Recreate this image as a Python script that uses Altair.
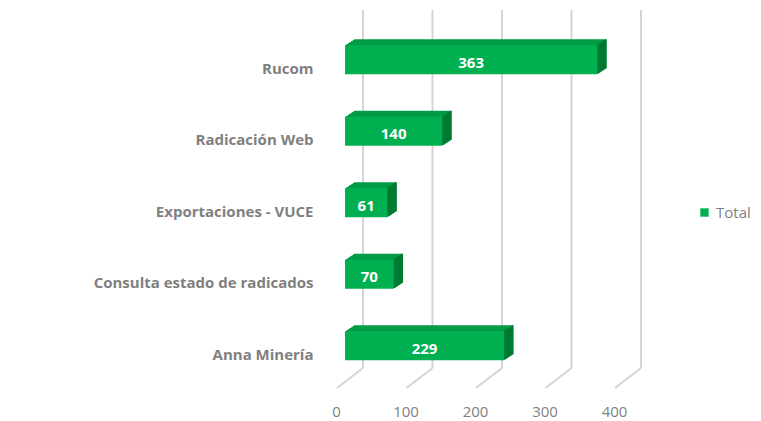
import altair as alt
import pandas as pd

categories = ["Rucom", "Radicación Web", "Exportaciones - VUCE", "Consulta estado de radicados", "Anna Minería"]
values = [363, 140, 61, 70, 229]
series_name = "Total"
tick_values = [0, 100, 200, 300, 400]

FRONT = "#00b050"
TOP = "#009c45"
SIDE = "#007a33"
GRAY = "#7f7f7f"
GRID = "#d4d4d4"

df = pd.DataFrame({"cat": categories, "value": values, "series": [series_name] * len(values)})
ticks = pd.DataFrame({"tick": tick_values})

xscale = alt.Scale(domain=[0, 400], nice=False, zero=True)
xaxis = alt.Axis(title=None, values=tick_values, grid=False, domain=False, ticks=False,
                 labelFont="Open Sans", labelFontSize=15, labelColor=GRAY,
                 labelPadding=23, labelOffset=-9, labelFlush=False)
yenc = alt.Y("cat:N", sort=categories,
             scale=alt.Scale(paddingInner=0, paddingOuter=0),
             axis=alt.Axis(title=None, domain=False, ticks=False, grid=False,
                           labelFont="Open Sans", labelFontSize=15, labelFontWeight="bold",
                           labelColor=GRAY, labelPadding=32, labelOffset=9, labelLimit=400))

def xenc(field):
    return alt.X(field, type="quantitative", scale=xscale, axis=xaxis)

BAR = 29
N = 9
DX = 1.0
DY = 0.66

layers = []

# back wall gridlines
layers.append(
    alt.Chart(ticks).mark_rule(color=GRID, strokeWidth=2, xOffset=18, x2Offset=18)
    .encode(x=xenc("tick"), y=alt.value(-14), y2=alt.value(344))
)
# floor lines
layers.append(
    alt.Chart(ticks).mark_rule(color=GRID, strokeWidth=2, xOffset=18, x2Offset=-8)
    .encode(x=xenc("tick"), x2=alt.X2("tick"), y=alt.value(344), y2=alt.value(364))
)

# top face (stacked shifted rects)
for i in range(1, N + 1):
    layers.append(
        alt.Chart(df).mark_bar(size=BAR, color=TOP, xOffset=i * DX, x2Offset=i * DX,
                               yOffset=-i * DY, y2Offset=-i * DY)
        .encode(x=xenc("value"), y=yenc)
    )
# side face (thin strips at the right end)
for i in range(1, N + 1):
    layers.append(
        alt.Chart(df).mark_bar(size=BAR, color=SIDE, xOffset=(i - 1) * DX - 0.4, x2Offset=i * DX + 0.4,
                               yOffset=-i * DY, y2Offset=-i * DY)
        .encode(x=xenc("value"), x2=alt.X2("value"), y=yenc)
    )

# front face with legend
layers.append(
    alt.Chart(df).mark_bar(size=BAR)
    .encode(
        x=xenc("value"), y=yenc,
        color=alt.Color("series:N", scale=alt.Scale(range=[FRONT]),
                        legend=alt.Legend(title=None, orient="none", legendX=352, legendY=181,
                                          symbolType="square", symbolSize=70, symbolStrokeWidth=0,
                                          labelFont="Open Sans", labelFontSize=15, labelColor=GRAY,
                                          labelOffset=4))
    )
)

# value labels
layers.append(
    alt.Chart(df).transform_calculate(mid="datum.value / 2")
    .mark_text(color="white", font="Open Sans", fontSize=15, fontWeight="bold", dy=3)
    .encode(x=xenc("mid:Q"), y=yenc, text=alt.Text("value:Q"))
)

chart = alt.layer(*layers).properties(
    width=278, height=357.5,
    padding={"left": 337, "top": 16, "right": 130, "bottom": 38},
    autosize=alt.AutoSizeParams(type="none"),
    background="white",
).configure_view(stroke=None)

chart.save("out.html", embed_options={"renderer": "svg", "actions": False})
